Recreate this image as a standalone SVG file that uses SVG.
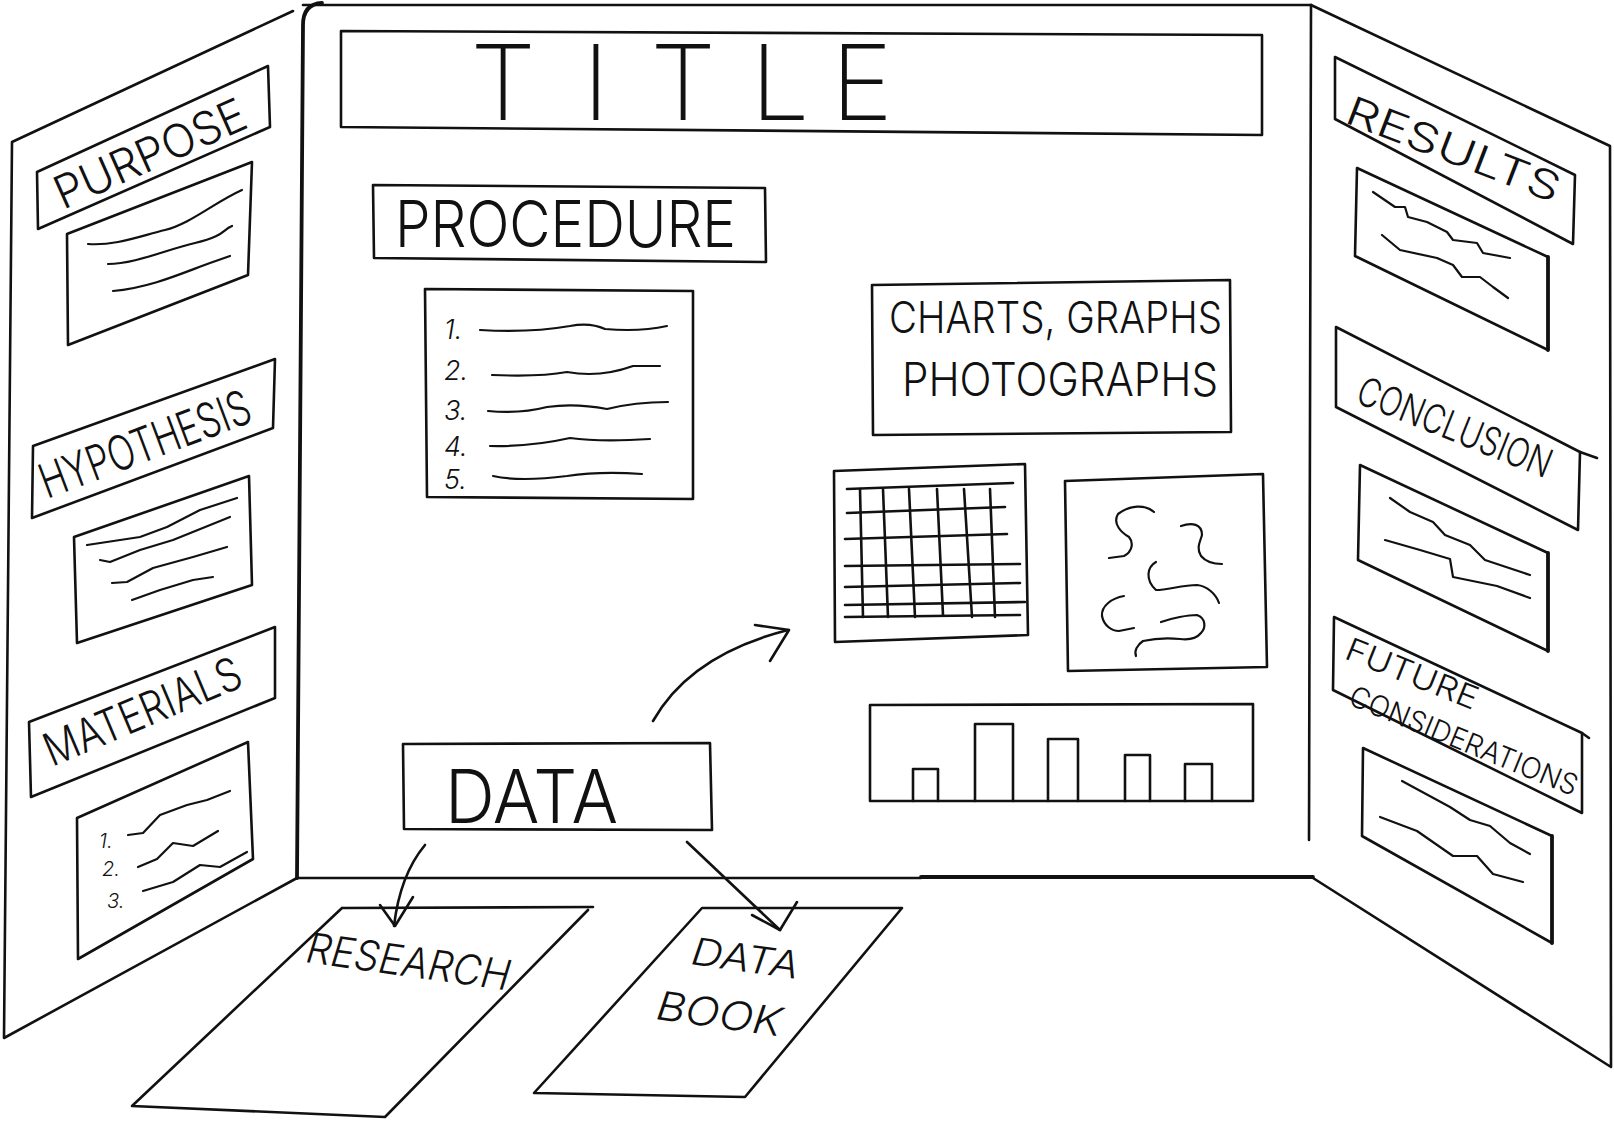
<svg xmlns="http://www.w3.org/2000/svg" width="1614" height="1122" viewBox="0 0 1614 1122">
<style>
.ln{fill:none;stroke:#111;stroke-width:2.6;stroke-linejoin:round;stroke-linecap:round}
.hv{fill:none;stroke:#111;stroke-width:3.8;stroke-linejoin:round;stroke-linecap:round}
.wv{fill:none;stroke:#111;stroke-width:2.2;stroke-linejoin:round;stroke-linecap:round}
.tx{font-family:Inter,"Liberation Sans",Arial,sans-serif;font-weight:300;fill:#111}
.it{font-style:italic}
.ttl{font-family:Inter,"DejaVu Sans","Liberation Sans",sans-serif;font-weight:200;fill:#111}
</style>
<rect width="1614" height="1122" fill="#fff"/>

<g id="board">
  <path class="ln" d="M297,878 L4,1038 L12,142 L293,11"/>
  <path class="hv" d="M322,3 Q303,4 303,25 L297,878"/>
  <path class="ln" d="M303,5 L1311,5"/>
  <path class="ln" d="M1311,5 L1309,840"/>
  <path class="ln" d="M297,878 L921,878"/>
  <path class="hv" d="M921,877 L1313,877"/>
  <path class="ln" d="M1311,5 L1610,146 L1611,1067 L1313,878"/>
</g>

<g id="title">
  <path class="ln" d="M341,31 L1262,35 L1262,135 L341,127 Z"/>
  <text class="ttl" font-size="105" text-anchor="middle" x="503 596 683 780 862" y="120">TITLE</text>
</g>

<g id="procedure">
  <path class="ln" d="M373,185 L765,188 L766,262 L374,258 Z"/>
  <text class="tx" x="395" y="247" font-size="64" textLength="341" lengthAdjust="spacingAndGlyphs">PROCEDURE</text>
</g>

<g id="procedure-list">
  <path class="ln" d="M425,289 L693,291 L693,499 L427,497 Z"/>
  <g class="tx it" font-size="27">
    <text x="444" y="339">1.</text>
    <text x="444" y="380">2.</text>
    <text x="444" y="420">3.</text>
    <text x="444" y="456">4.</text>
    <text x="444" y="489">5.</text>
  </g>
  <path class="wv" d="M480,330 Q530,333 570,326 Q590,322 605,329 Q640,332 667,326"/>
  <path class="wv" d="M492,375 Q540,377 567,372 Q600,378 633,366 L660,366"/>
  <path class="wv" d="M488,411 Q520,414 547,407 Q575,403 607,409 Q635,402 668,402"/>
  <path class="wv" d="M490,446 Q530,447 570,438 Q600,442 650,439"/>
  <path class="wv" d="M493,476 Q520,482 567,476 Q600,471 642,474"/>
</g>

<g id="data">
  <path class="ln" d="M403,744 L710,743 L712,830 L404,829 Z"/>
  <text class="tx" x="445" y="823" font-size="74" textLength="173" lengthAdjust="spacingAndGlyphs">DATA</text>
</g>

<g id="charts-label">
  <path class="ln" d="M872,285 L1230,280 L1231,432 L873,435 Z"/>
  <text class="tx" x="889" y="333" font-size="44" textLength="333" lengthAdjust="spacingAndGlyphs">CHARTS, GRAPHS</text>
  <text class="tx" x="902" y="396" font-size="46" textLength="316" lengthAdjust="spacingAndGlyphs">PHOTOGRAPHS</text>
</g>

<g id="grid-chart">
  <path class="ln" d="M834,471 L1025,464 L1028,635 L835,642 Z"/>
  <g class="ln">
    <path d="M847,489 L1013,483"/>
    <path d="M847,513 L1005,507"/>
    <path d="M845,539 L1007,534"/>
    <path d="M845,566 L1020,564"/>
    <path d="M845,587 L1020,583"/>
    <path d="M845,605 L1025,602"/>
    <path d="M845,617 L1020,615"/>
    <path d="M860,489 L863,617"/>
    <path d="M883,489 L888,617"/>
    <path d="M909,489 L915,617"/>
    <path d="M937,489 L943,615"/>
    <path d="M964,489 L972,617"/>
    <path d="M990,489 L995,617"/>
  </g>
</g>

<g id="photo">
  <path class="ln" d="M1065,481 L1263,474 L1267,667 L1068,671 Z"/>
  <path class="wv" d="M1154,512 C1145,504 1130,505 1118,514 C1112,524 1122,533 1129,537 C1134,543 1132,552 1124,556 L1109,558"/>
  <path class="wv" d="M1181,526 C1192,522 1202,524 1202,535 C1200,542 1196,548 1201,556 C1206,562 1214,564 1222,564"/>
  <path class="wv" d="M1156,562 C1147,567 1145,580 1156,590 C1168,590 1182,585 1197,585 C1207,586 1216,594 1219,603"/>
  <path class="wv" d="M1124,596 C1112,598 1101,606 1102,616 C1104,626 1112,631 1119,631 L1134,628"/>
  <path class="wv" d="M1161,622 C1172,618 1188,615 1197,615 C1206,618 1206,628 1201,633 C1196,639 1188,640 1180,639 C1168,638 1152,639 1143,641 C1137,645 1134,651 1136,656"/>
</g>

<g id="bar-chart">
  <path class="ln" d="M870,705 L1253,704 L1253,801 L870,801 Z"/>
  <path class="ln" d="M913,801 L913,769 L938,769 L938,801"/>
  <path class="ln" d="M975,801 L975,724 L1013,724 L1013,801"/>
  <path class="ln" d="M1048,801 L1048,739 L1078,739 L1078,801"/>
  <path class="ln" d="M1125,801 L1125,755 L1150,755 L1150,801"/>
  <path class="ln" d="M1185,801 L1185,764 L1212,764 L1212,801"/>
</g>

<g id="purpose">
  <path class="ln" d="M37,172 L268,66 L270,127 L38,229 Z"/>
  <text class="tx" font-size="46" textLength="205" lengthAdjust="spacingAndGlyphs" transform="translate(63,210) rotate(-24)">PURPOSE</text>
</g>
<g id="purpose-content">
  <path class="ln" d="M67,234 L252,162 L248,275 L68,345 Z"/>
  <path class="wv" d="M88,244 C115,246 140,236 165,230 S215,202 242,190"/>
  <path class="wv" d="M108,264 C135,264 165,250 195,243 S222,230 232,226"/>
  <path class="wv" d="M113,291 C150,288 185,272 210,263 L230,256"/>
</g>

<g id="hypothesis">
  <path class="ln" d="M33,446 L275,359 L273,428 L32,518 Z"/>
  <text class="tx" font-size="48" textLength="222" lengthAdjust="spacingAndGlyphs" transform="translate(47,499) rotate(-20.6)">HYPOTHESIS</text>
</g>
<g id="hypothesis-content">
  <path class="ln" d="M74,537 L249,476 L252,585 L77,643 Z"/>
  <path class="wv" d="M87,545 L140,537 L167,527 L200,510 L237,498"/>
  <path class="wv" d="M100,560 L110,562 L140,550 L173,540 L230,517"/>
  <path class="wv" d="M112,583 L127,582 L153,568 L193,557 L227,547"/>
  <path class="wv" d="M132,600 L160,590 L193,580 L213,577"/>
</g>

<g id="materials">
  <path class="ln" d="M29,722 L275,627 L275,698 L31,797 Z"/>
  <text class="tx" font-size="46" textLength="210" lengthAdjust="spacingAndGlyphs" transform="translate(52,767) rotate(-22.8)">MATERIALS</text>
</g>
<g id="materials-content">
  <path class="ln" d="M77,818 L248,742 L253,859 L78,959 Z"/>
  <g class="tx it" font-size="20">
    <text x="99" y="848">1.</text>
    <text x="102" y="876">2.</text>
    <text x="107" y="908">3.</text>
  </g>
  <path class="wv" d="M128,835 L143,833 L160,815 L187,805 L207,800 L230,791"/>
  <path class="wv" d="M138,867 L157,859 L173,843 L193,846 L218,831"/>
  <path class="wv" d="M143,891 L173,882 L200,865 L220,867 L247,852"/>
</g>

<g id="results">
  <path class="ln" d="M1335,57 L1575,175 L1573,244 L1335,119 Z"/>
  <text class="tx" font-size="40" textLength="226" lengthAdjust="spacingAndGlyphs" transform="translate(1343,122) rotate(21)">RESULTS</text>
</g>
<g id="results-content">
  <path class="ln" d="M1548,257 L1357,168 L1355,256 L1548,350"/>
  <path class="hv" d="M1548,257 L1548,350"/>
  <path class="wv" d="M1373,192 L1395,207 L1405,207 L1408,217 L1427,222 L1447,232 L1453,240 L1477,243 L1483,253 L1510,258"/>
  <path class="wv" d="M1382,235 L1400,250 L1437,258 L1453,265 L1462,277 L1480,277 L1493,287 L1508,298"/>
</g>

<g id="conclusion">
  <path class="ln" d="M1336,327 L1580,452 L1578,530 L1336,407 Z"/>
  <path class="ln" d="M1580,452 L1597,458"/>
  <text class="tx" font-size="40" textLength="206" lengthAdjust="spacingAndGlyphs" transform="translate(1354,402) rotate(21.8)">CONCLUSION</text>
</g>
<g id="conclusion-content">
  <path class="ln" d="M1548,553 L1360,465 L1358,560 L1548,651"/>
  <path class="hv" d="M1548,553 L1548,651"/>
  <path class="wv" d="M1390,498 L1410,512 L1433,522 L1445,535 L1470,545 L1485,560 L1530,575"/>
  <path class="wv" d="M1385,540 L1420,550 L1450,559 L1453,577 L1497,586 L1530,598"/>
</g>

<g id="future">
  <path class="ln" d="M1334,617 L1582,733 L1582,813 L1333,690 Z"/>
  <path class="ln" d="M1582,733 L1589,738"/>
  <text class="tx" font-size="32" textLength="140" lengthAdjust="spacingAndGlyphs" transform="translate(1343,658) rotate(21.9)">FUTURE</text>
  <text class="tx" font-size="29" textLength="244" lengthAdjust="spacingAndGlyphs" transform="translate(1347,704) rotate(22.2)">CONSIDERATIONS</text>
</g>
<g id="future-content">
  <path class="ln" d="M1552,836 L1363,748 L1362,836 L1552,943"/>
  <path class="hv" d="M1552,836 L1552,943"/>
  <path class="wv" d="M1402,781 L1450,807 L1470,820 L1490,826 L1510,843 L1530,854"/>
  <path class="wv" d="M1380,817 L1417,831 L1453,856 L1477,856 L1493,874 L1523,882"/>
</g>

<g id="research">
  <path class="ln" d="M342,908 L593,907 M588,910 L385,1117 L132,1106 L342,908"/>
  <text class="tx it" font-size="42" textLength="205" lengthAdjust="spacingAndGlyphs" transform="translate(305,962) rotate(8)">RESEARCH</text>
</g>

<g id="data-book">
  <path class="ln" d="M702,908 L902,908 L745,1097 L534,1093 Z"/>
  <text class="tx it" font-size="38" textLength="108" lengthAdjust="spacingAndGlyphs" transform="translate(690,964) rotate(8)">DATA</text>
  <text class="tx it" font-size="40" textLength="126" lengthAdjust="spacingAndGlyphs" transform="translate(655,1019) rotate(8)">BOOK</text>
</g>

<g id="connectors">
  <path class="ln" d="M653,721 Q690,655 788,630"/>
  <path class="ln" d="M755,625 L789,630 L770,661"/>
  <path class="ln" d="M425,845 Q400,875 394,926"/>
  <path class="ln" d="M380,905 L395,926 L413,897"/>
  <path class="ln" d="M687,842 L780,930"/>
  <path class="ln" d="M752,915 L780,930 L797,902"/>
</g>
</svg>
